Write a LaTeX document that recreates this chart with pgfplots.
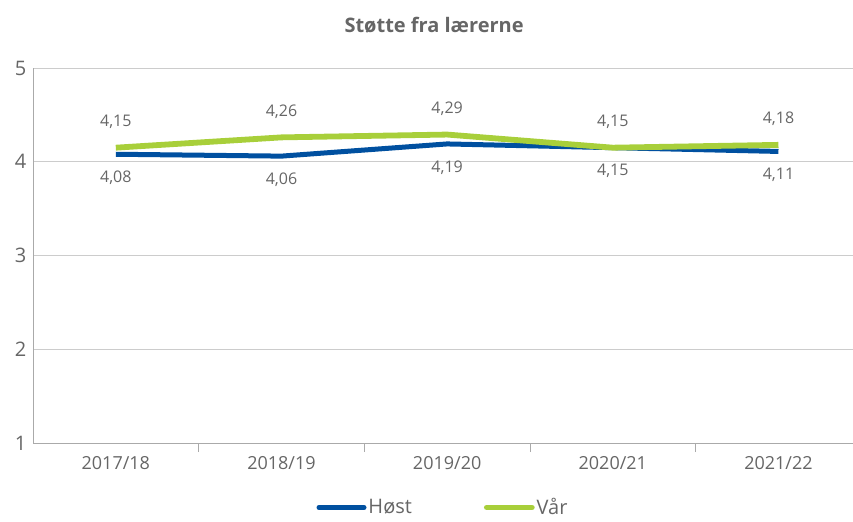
\documentclass[border=0pt]{standalone}
\usepackage{pgfplots}
\pgfplotsset{compat=1.18}
\usepackage{fontspec}
\setmainfont{Open Sans}
\definecolor{hblue}{HTML}{0050A0}
\definecolor{vgreen}{HTML}{A8CF3A}
\definecolor{txt}{HTML}{666666}
\definecolor{gridc}{HTML}{CCCCCC}
\definecolor{axc}{HTML}{AAAAAA}
\begin{document}
\begin{tikzpicture}
\begin{axis}[
  scale only axis,
  width=820bp, height=375bp,
  xmin=-0.5, xmax=4.45,
  ymin=1, ymax=5,
  axis x line=bottom, axis y line=left,
  axis line style={-, draw=axc, line width=0.8bp},
  xtick={0,1,2,3,4},
  xticklabels={2017/18,2018/19,2019/20,2020/21,2021/22},
  major x tick style={draw=none},
  extra x ticks={0.5,1.5,2.5,3.5},
  extra x tick labels={},
  extra x tick style={tick align=outside, major tick length=9bp, grid=none, major x tick style={draw=axc, line width=0.8bp}},
  ytick={1,2,3,4,5},
  major y tick style={draw=none},
  ymajorgrids, grid style={draw=gridc, line width=0.8bp},
  /pgf/number format/assume math mode=true,
  tick label style={text=txt},
  xticklabel style={font=\fontsize{18bp}{21bp}\selectfont, yshift=-8bp},
  yticklabel style={font=\fontsize{20bp}{23bp}\selectfont, xshift=-1bp},
  legend style={at={(0.5,-0.137)}, anchor=north, draw=none, fill=none,
    font=\fontsize{20bp}{23bp}\selectfont, text=txt,
    legend columns=2, /tikz/every even column/.append style={column sep=70bp}},
  legend image code/.code={\draw[#1, line cap=round] (0bp,0bp) -- (45bp,0bp);},
  clip=false,
]
\addplot[hblue, line width=5bp,
  nodes near coords, point meta=explicit symbolic,
  every node near coord/.append style={below, yshift=-11bp, text=txt, font=\fontsize{16bp}{19bp}\selectfont}]
  coordinates {(0,4.08)[4,08] (1,4.06)[4,06] (2,4.19)[4,19] (3,4.15)[4,15] (4,4.11)[4,11]};
\addlegendentry{Høst}
\addplot[vgreen, line width=5.8bp,
  nodes near coords, point meta=explicit symbolic,
  every node near coord/.append style={above, yshift=13bp, text=txt, font=\fontsize{16bp}{19bp}\selectfont}]
  coordinates {(0,4.15)[4,15] (1,4.26)[4,26] (2,4.29)[4,29] (3,4.15)[4,15] (4,4.18)[4,18]};
\addlegendentry{Vår}
\coordinate (ll) at (rel axis cs:0,0);
\coordinate (ur) at (rel axis cs:1,1);
\node[text=txt, font=\bfseries\fontsize{20bp}{23bp}\selectfont] at ([yshift=43bp]rel axis cs:0.4891,1) {Støtte fra lærerne};
\end{axis}
\pgfresetboundingbox
\useasboundingbox ([xshift=-33bp,yshift=-79bp]ll) rectangle ([yshift=68bp]ur);
\end{tikzpicture}
\end{document}
